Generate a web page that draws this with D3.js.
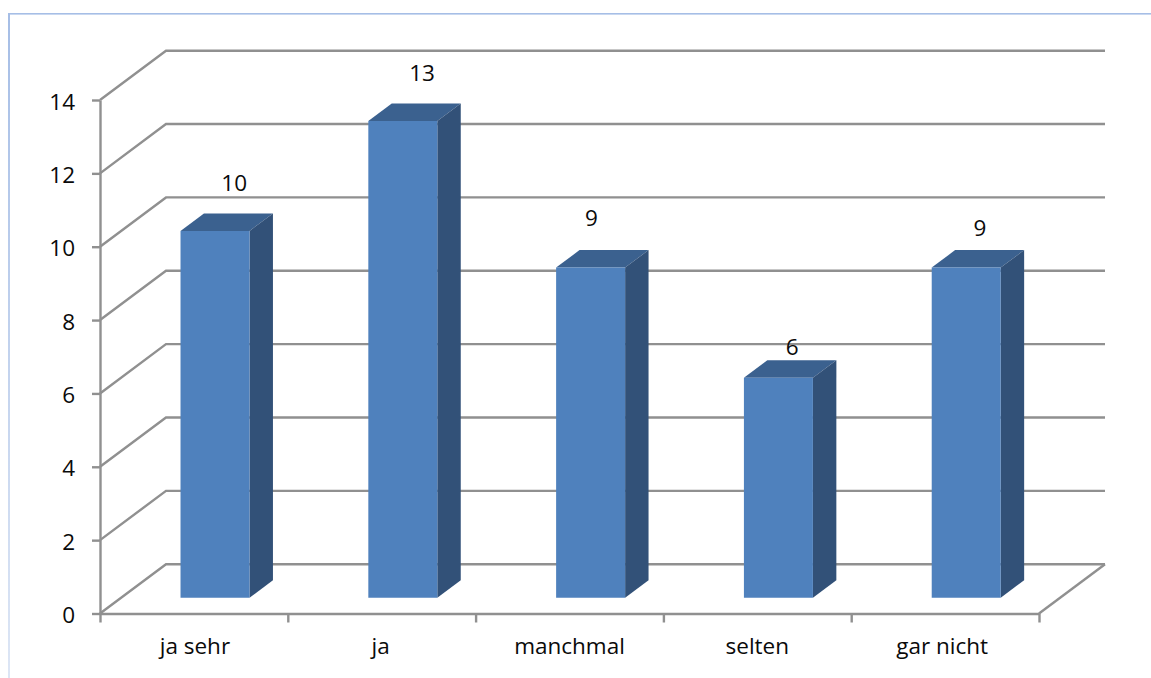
<!DOCTYPE html>
<html lang="de">
<head>
<meta charset="utf-8">
<script src="https://cdn.jsdelivr.net/npm/d3@7/dist/d3.min.js"></script>
<style>
  html, body { margin: 0; padding: 0; background: #fff; }
  svg { display: block; }
  text { font-family: "Open Sans", Lato, sans-serif; font-size: 22.5px; fill: #0a0a0a; }
</style>
</head>
<body>
<svg id="chart" width="1151" height="678"></svg>
<script>
// Survey answers and their counts
const categories = ["ja sehr", "ja", "manchmal", "selten", "gar nicht"];
const counts = [10, 13, 9, 6, 9];
const yTicks = [0, 2, 4, 6, 8, 10, 12, 14];

// Hand placement of the value labels, relative to the top back edge of each bar
const labelNudgeX = [7.5, 7.5, -11, 2, 2];
const labelNudgeY = [-31, -31, -33, -14, -23];
// Small sideways shifts of the category names
const nameNudgeX = [1, -1, 0, 0, -3];

const svg = d3.select("#chart");
const plotLeft = 100, plotRight = 1039, plotBottom = 613.5, plotTop = 100;
const wallDx = 66, wallDy = -49.3;           // oblique offset of the back wall
const barFront = 0.32, barDepth = 0.355;     // bar position inside the floor depth
const barShare = 69 / 187.8;

const x = d3.scaleBand().domain(categories).range([plotLeft, plotRight]);
const xEdges = d3.scaleLinear().domain([0, categories.length]).range([plotLeft, plotRight]);
const y = d3.scaleLinear().domain([0, 14]).range([plotBottom, plotTop]);

// Oblique projection: depth 0 is the front plane, depth 1 the back wall
const px = (xVal, depth) => xVal + wallDx * depth;
const py = (value, depth) => y(value) + wallDy * depth;

// Frame of the chart area
const defs = svg.append("defs");
const fade = defs.append("linearGradient").attr("id", "frameFade")
  .attr("x1", 0).attr("x2", 0).attr("y1", 0).attr("y2", 1);
fade.append("stop").attr("offset", "0%").attr("stop-color", "#a6bee6");
fade.append("stop").attr("offset", "100%").attr("stop-color", "#dde6f5");
svg.append("rect").attr("x", 8).attr("y", 14).attr("width", 2).attr("height", 664)
  .attr("fill", "url(#frameFade)");
svg.append("rect").attr("x", 8).attr("y", 13).attr("width", 1143).attr("height", 1.6)
  .attr("fill", "#a6bee6");

const gridColor = "#909090";
const gridWidth = 2.4;

// Back wall lines and their diagonals down to the value axis
const wall = svg.append("g").attr("fill", "none").attr("stroke", gridColor).attr("stroke-width", gridWidth);
wall.selectAll("path").data(yTicks).join("path")
  .attr("d", d => d3.line()([
    [px(plotLeft, 0), py(d, 0)],
    [px(plotLeft, 1), py(d, 1)],
    [px(plotRight, 1), py(d, 1)]
  ]));
// Right edge of the floor
wall.append("path").attr("d", d3.line()([
  [px(plotRight, 0), py(0, 0)],
  [px(plotRight, 1), py(0, 1)]
]));

// Value axis
const yAxis = svg.append("g").attr("transform", `translate(${plotLeft},0)`)
  .call(d3.axisLeft(y).tickValues(yTicks).tickSize(8).tickPadding(17).tickSizeOuter(0));
// Category boundaries on the front edge of the floor
const xAxis = svg.append("g").attr("transform", `translate(0,${plotBottom})`)
  .call(d3.axisBottom(xEdges).ticks(categories.length).tickFormat("").tickSize(9).tickSizeOuter(0));
// Category names
const xNames = svg.append("g").attr("transform", `translate(0,${plotBottom})`)
  .call(d3.axisBottom(x).tickSize(0).tickPadding(25));
xNames.select(".domain").remove();
xNames.selectAll("text").attr("dx", (d, i) => nameNudgeX[i]);
yAxis.selectAll("text").attr("dy", "0.4em");
[yAxis, xAxis].forEach(a => {
  a.selectAll(".domain, line").attr("stroke", gridColor).attr("stroke-width", gridWidth);
});
svg.selectAll("g text").style("font-family", "'Open Sans', Lato, sans-serif").style("font-size", "22.5px").attr("fill", "#0a0a0a");

// Bars as three visible faces
const rows = categories.map((c, i) => ({ c, v: counts[i], i }));
const band = x.bandwidth();
const barW = band * barShare;
const shape = d => {
  const x0 = x(d.c) + (band - barW) / 2;
  const x1 = x0 + barW;
  const d0 = barFront, d1 = barFront + barDepth;
  return { x0, x1, d0, d1 };
};
const bars = svg.append("g").selectAll("g").data(rows).join("g");
bars.append("path").attr("fill", "#3b618f").attr("d", d => {
  const s = shape(d);
  return d3.line()([
    [px(s.x0, s.d0), py(d.v, s.d0)], [px(s.x1, s.d0), py(d.v, s.d0)],
    [px(s.x1, s.d1), py(d.v, s.d1)], [px(s.x0, s.d1), py(d.v, s.d1)]
  ]) + "Z";
});
bars.append("path").attr("fill", "#325178").attr("d", d => {
  const s = shape(d);
  return d3.line()([
    [px(s.x1, s.d0), py(d.v, s.d0)], [px(s.x1, s.d1), py(d.v, s.d1)],
    [px(s.x1, s.d1), py(0, s.d1)], [px(s.x1, s.d0), py(0, s.d0)]
  ]) + "Z";
});
bars.append("path").attr("fill", "#4f81bd").attr("d", d => {
  const s = shape(d);
  return d3.line()([
    [px(s.x0, s.d0), py(d.v, s.d0)], [px(s.x1, s.d0), py(d.v, s.d0)],
    [px(s.x1, s.d0), py(0, s.d0)], [px(s.x0, s.d0), py(0, s.d0)]
  ]) + "Z";
});

// Value labels
svg.append("g").selectAll("text").data(rows).join("text")
  .attr("text-anchor", "middle").attr("dominant-baseline", "central")
  .attr("x", d => {
    const s = shape(d);
    return px((s.x0 + s.x1) / 2, (s.d0 + s.d1) / 2) + labelNudgeX[d.i];
  })
  .attr("y", d => py(d.v, barFront + barDepth) + labelNudgeY[d.i])
  .text(d => d.v);
</script>
</body>
</html>
